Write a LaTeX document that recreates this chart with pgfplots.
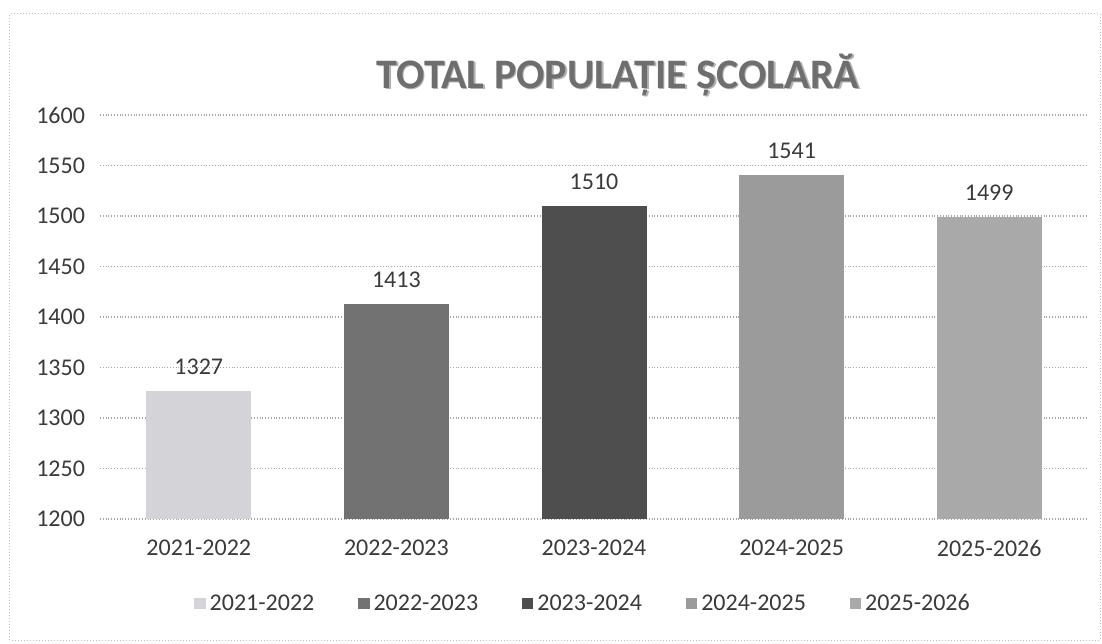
\documentclass[border=0pt]{standalone}
\usepackage{fontspec}
\setmainfont{Carlito}
\usepackage{pgfplots}
\pgfplotsset{compat=1.18}

\definecolor{barA}{HTML}{D3D3D8}
\definecolor{barB}{HTML}{727272}
\definecolor{barC}{HTML}{4E4E4E}
\definecolor{barD}{HTML}{9B9B9B}
\definecolor{barE}{HTML}{A9A9A9}
\definecolor{txt}{HTML}{3A3A3A}
\definecolor{ttl}{HTML}{6E6E6E}

\begin{document}
\begin{tikzpicture}
\begin{axis}[
    name=ax,
    scale only axis,
    width=494pt, height=202pt,
    ybar, bar width=52.5pt,
    xmin=-0.5, xmax=4.5,
    ymin=1200, ymax=1600,
    ytick={1200,1250,...,1600},
    xtick={0,1,2,3,4},
    xticklabels={2021-2022,2022-2023,2023-2024,2024-2025,2025-2026},
    major tick length=0pt,
    axis line style={draw=none},
    ymajorgrids,
    major grid style={black!35, densely dotted, line width=0.6pt},
    /pgf/number format/assume math mode=true,
    /pgf/number format/1000 sep={},
    tick label style={font=\fontsize{12}{14}\selectfont, text=txt},
    yticklabel style={xshift=-4pt},
    xticklabel style={yshift=-7pt},
    nodes near coords,
    nodes near coords style={font=\fontsize{12}{14}\selectfont, text=txt, anchor=center, yshift=12pt},
    legend columns=-1,
    legend image code/.code={\fill[#1] (0pt,-2.8pt) rectangle (5.6pt,2.8pt);},
    legend style={at={(axis description cs:0.49,-0.21)}, anchor=center, draw=none,
        font=\fontsize{12}{14}\selectfont, text=txt,
        /tikz/every even column/.append style={column sep=20pt}},
]
\addplot[fill=barA, draw=none, bar shift=0pt] coordinates {(0,1327)};
\addplot[fill=barB, draw=none, bar shift=0pt] coordinates {(1,1413)};
\addplot[fill=barC, draw=none, bar shift=0pt] coordinates {(2,1510)};
\addplot[fill=barD, draw=none, bar shift=0pt] coordinates {(3,1541)};
\addplot[fill=barE, draw=none, bar shift=0pt] coordinates {(4,1499)};
\legend{2021-2022,2022-2023,2023-2024,2024-2025,2025-2026}
\end{axis}
% title with a soft shadow
\node[text=black!30, font=\fontsize{21}{24}\bfseries] at ([xshift=259.7pt, yshift=19.3pt]ax.north west) {TOTAL POPULAȚIE ȘCOLARĂ};
\node[text=ttl, font=\fontsize{21}{24}\bfseries] at ([xshift=259pt, yshift=20pt]ax.north west) {TOTAL POPULAȚIE ȘCOLARĂ};
% scanned frame
\draw[black!25, densely dotted, line width=0.5pt] ([xshift=-45pt, yshift=-60.5pt]ax.south west) rectangle ([xshift=500pt, yshift=252.5pt]ax.south west);
\path[use as bounding box] ([xshift=-50pt, yshift=-62pt]ax.south west) rectangle ([xshift=501pt, yshift=259.5pt]ax.south west);
\end{tikzpicture}
\end{document}
